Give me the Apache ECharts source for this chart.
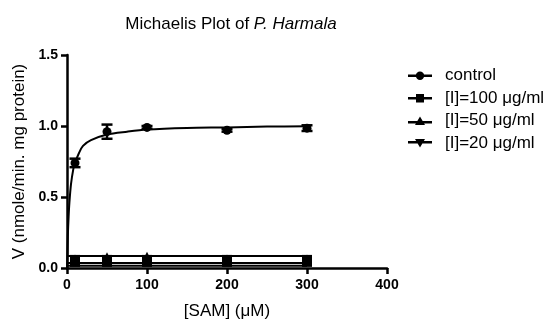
<!DOCTYPE html>
<html><head><meta charset="utf-8">
<script src="https://cdn.jsdelivr.net/npm/echarts@6/dist/echarts.min.js"></script>
<style>html,body{margin:0;padding:0;background:#fff}#c{width:547px;height:320px}</style>
</head><body><div id="c"></div>
<script>
// measured points
const concX = [10, 50, 100, 200, 300];
const ctrlY = [0.74, 0.96, 0.99, 0.97, 0.985];
const ctrlErr = [0.03, 0.05, 0.01, 0.01, 0.02];
const inh100Y = [0.05, 0.05, 0.05, 0.05, 0.05];
const inh50Y = [0.06, 0.075, 0.08, 0.06, 0.06];
const inh20Y = [0.04, 0.045, 0.045, 0.04, 0.045];
// fitted curves
const fitCtrlX = [0, 1, 2, 3, 5, 8, 10, 15, 20, 30, 50, 75, 100, 150, 200, 250, 300];
const fitCtrlY = [0, 0.22, 0.36, 0.46, 0.59, 0.70, 0.74, 0.81, 0.86, 0.90, 0.94, 0.96, 0.975, 0.986, 0.99, 0.996, 0.998];
const fitInhX = [0, 300];
const fit100Y = [0.035, 0.035];
const fit50Y = [0.085, 0.085];
const fit20Y = [0.015, 0.015];
const xTicks = [0, 100, 200, 300, 400];

const zip = (a, b) => a.map((v, i) => [v, b[i]]);
const icons = {
  circle: 'path://M0,0 L0,0 M32,10 L32,10 M0,4 L24,4 L24,6.5 L0,6.5 Z M12,1 A4.2,4.2 0 1,1 12,9.4 A4.2,4.2 0 1,1 12,1 Z',
  rect: 'path://M0,0 L0,0 M32,10 L32,10 M0,4 L24,4 L24,6.5 L0,6.5 Z M8,1 L16,1 L16,9.5 L8,9.5 Z',
  tri: 'path://M0,0 L0,0 M32,10 L32,10 M0,5.5 L24,5.5 L24,8 L0,8 Z M12,1 L17,9.5 L7,9.5 Z',
  itri: 'path://M0,0 L0,0 M32,10 L32,10 M0,3 L24,3 L24,5.5 L0,5.5 Z M7,1 L17,1 L12,9.5 Z'
};
const invTri = 'path://M0,0 L10,0 L5,9 Z';
const FONT = 'Liberation Sans';

const chart = echarts.init(document.getElementById('c'));
const black = '#000';
const dataSeries = (name, y, sym, size) => ({
  name, type: 'line', data: zip(concX, y), symbol: sym, symbolSize: size,
  lineStyle: { width: 0, opacity: 0 }, itemStyle: { color: black }, z: 5, silent: true
});
const fitSeries = (xs, ys, smooth) => ({
  type: 'line', data: zip(xs, ys), showSymbol: false, symbol: 'none', smooth: smooth,
  lineStyle: { color: black, width: 2 }, z: 3, silent: true
});
chart.setOption({
  animation: false,
  title: {
    text: '{n|Michaelis Plot of }{i|P. Harmala}', left: 226, top: 11, textAlign: 'center',
    textStyle: { rich: {
      n: { fontFamily: FONT, fontSize: 17, fontWeight: 'normal', color: black },
      i: { fontFamily: FONT, fontSize: 17, fontWeight: 'normal', fontStyle: 'italic', color: black }
    } }
  },
  legend: {
    orient: 'vertical', left: 403, top: 62, itemWidth: 32, itemHeight: 10, itemGap: 5.5,
    textStyle: { fontFamily: FONT, fontSize: 17, color: black, lineHeight: 17 },
    data: [
      { name: 'control', icon: icons.circle },
      { name: '[I]=100 μg/ml', icon: icons.rect },
      { name: '[I]=50 μg/ml', icon: icons.tri },
      { name: '[I]=20 μg/ml', icon: icons.itri }
    ],
    selectedMode: false
  },
  grid: { left: 67, right: 160, top: 55, bottom: 52, outerBoundsMode: 'none', containLabel: false },
  xAxis: {
    type: 'value', min: 0, max: 400, interval: 100,
    name: '[SAM] (μM)', nameLocation: 'middle', nameGap: 35,
    nameTextStyle: { fontFamily: FONT, fontSize: 17, color: black },
    axisLine: { show: true, onZero: false, lineStyle: { color: black, width: 2.5 } },
    axisTick: { show: true, length: 6, lineStyle: { color: black, width: 2.5 } },
    axisLabel: { fontFamily: FONT, fontSize: 14, fontWeight: 'bold', color: black, margin: 10,
      customValues: xTicks },
    splitLine: { show: false }
  },
  yAxis: {
    type: 'value', min: 0, max: 1.5, interval: 0.5,
    name: 'V (nmole/min. mg protein)', nameLocation: 'middle', nameGap: 37,
    nameTextStyle: { fontFamily: FONT, fontSize: 17, color: black },
    axisLine: { show: true, onZero: false, lineStyle: { color: black, width: 2.5 } },
    axisTick: { show: true, length: 6, lineStyle: { color: black, width: 2.5 } },
    axisLabel: { fontFamily: FONT, fontSize: 14, fontWeight: 'bold', color: black, margin: 9,
      formatter: v => v.toFixed(1) },
    splitLine: { show: false }
  },
  series: [
    fitSeries(fitCtrlX, fitCtrlY, 0.3),
    fitSeries(fitInhX, fit100Y, false),
    fitSeries(fitInhX, fit50Y, false),
    fitSeries(fitInhX, fit20Y, false),
    {
      type: 'custom', silent: true, z: 4,
      data: concX.map((x, i) => [x, ctrlY[i], ctrlErr[i]]),
      renderItem: (params, api) => {
        const x = api.value(0), y = api.value(1), e = api.value(2);
        const top = api.coord([x, y + e]);
        const bot = api.coord([x, y - e]);
        const w = 5.5;
        const st = { stroke: black, lineWidth: 2.5 };
        return { type: 'group', children: [
          { type: 'line', shape: { x1: top[0], y1: top[1], x2: bot[0], y2: bot[1] }, style: st },
          { type: 'line', shape: { x1: top[0] - w, y1: top[1], x2: top[0] + w, y2: top[1] }, style: st },
          { type: 'line', shape: { x1: bot[0] - w, y1: bot[1], x2: bot[0] + w, y2: bot[1] }, style: st }
        ] };
      }
    },
    dataSeries('control', ctrlY, 'circle', 9),
    dataSeries('[I]=100 μg/ml', inh100Y, 'rect', [10, 12]),
    dataSeries('[I]=50 μg/ml', inh50Y, 'triangle', 10),
    dataSeries('[I]=20 μg/ml', inh20Y, invTri, 9)
  ]
});
</script></body></html>
